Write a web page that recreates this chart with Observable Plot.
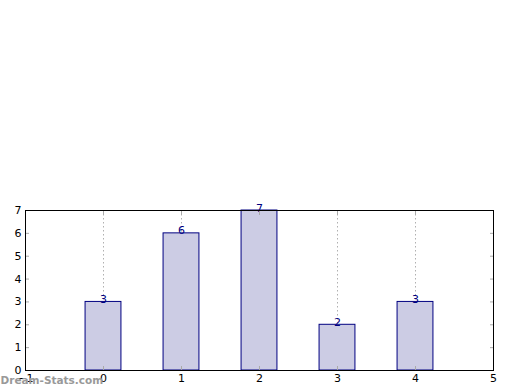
<!DOCTYPE html>
<html><head><meta charset="utf-8">
<script src="https://cdn.jsdelivr.net/npm/d3@7"></script>
<script src="https://cdn.jsdelivr.net/npm/@observablehq/plot@0.6"></script>
<style>body{margin:0;background:#fff;} #c{position:relative;width:520px;height:390px;}</style>
</head><body><div id="c"></div>
<script>
const categories = [0, 1, 2, 3, 4];
const values = [3, 6, 7, 2, 3];
const xTicks = [-1, 0, 1, 2, 3, 4, 5];
const yTicks = [0, 1, 2, 3, 4, 5, 6, 7];
const data = categories.map((c, i) => ({x: c, v: values[i]}));
const half = 0.23;
const fmt = d => d < 0 ? "\u2212" + Math.abs(d) : String(d);
const chart = Plot.plot({
  width: 520, height: 390,
  marginLeft: 25, marginRight: 27, marginTop: 210, marginBottom: 20,
  style: {fontFamily: "DejaVu Sans", fontSize: "11px", color: "#000", background: "#fff"},
  x: {domain: [-1, 5], label: null},
  y: {domain: [0, 7], label: null},
  marks: [
    Plot.ruleX(categories, {stroke: "#b0b0b0", strokeDasharray: "1.5,2.5", strokeWidth: 1}),
    Plot.rectY(data, {x1: d => d.x - half, x2: d => d.x + half, y: "v", fill: "#ccccE4", stroke: "#000080", strokeWidth: 1}),
    Plot.text(data, {x: "x", y: "v", text: d => String(d.v), fill: "#000080", lineAnchor: "bottom", dy: 1, fontSize: 11}),
    Plot.axisX({ticks: xTicks, tickSize: 0, tickPadding: 4, tickFormat: fmt, label: null}),
    Plot.axisX({anchor: "top", ticks: xTicks, tickSize: -4, stroke: "#aaa", text: null, label: null}),
    Plot.axisX({anchor: "bottom", ticks: xTicks, tickSize: -4, stroke: "#aaa", text: null, label: null}),
    Plot.axisY({ticks: yTicks, tickSize: 0, tickPadding: 4, tickFormat: fmt, label: null}),
    Plot.axisY({anchor: "left", ticks: yTicks, tickSize: -4, stroke: "#aaa", text: null, label: null}),
    Plot.axisY({anchor: "right", ticks: yTicks, tickSize: -4, stroke: "#aaa", text: null, label: null}),
    Plot.frame({stroke: "#000", strokeWidth: 1}),
    Plot.text(["Dream-Stats.com"], {frameAnchor: "bottom-left", dx: -25, dy: 13, fill: "#999", fontWeight: "bold", fontSize: 10.5, textAnchor: "start"})
  ]
});
document.getElementById("c").appendChild(chart);
</script></body></html>
